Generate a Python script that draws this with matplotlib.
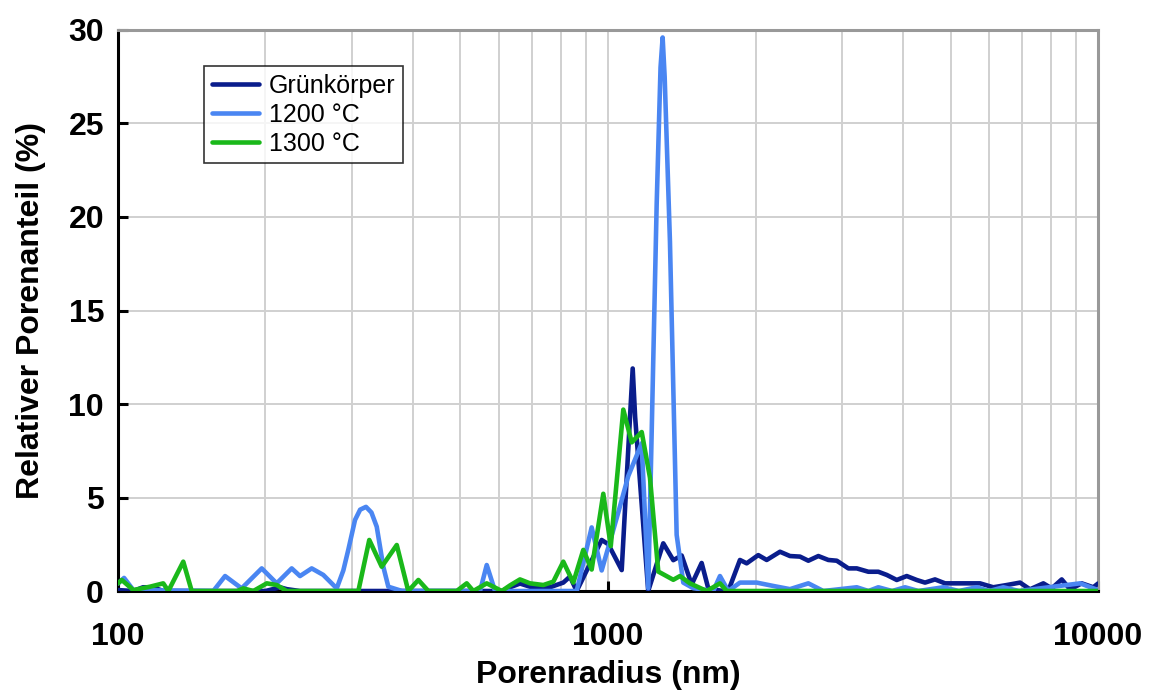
import matplotlib
matplotlib.use("Agg")
import matplotlib.pyplot as plt
from matplotlib.ticker import FixedLocator, NullFormatter

# --- data (pore radius in nm, relative pore fraction in %) ---
gk_x = [100, 107.5, 112.5, 117.9, 123.7, 200, 210.8, 214.1, 221, 235, 607, 631, 661.3, 693.1,
        761.4, 810.5, 836.3, 863.1, 970.7, 1001.4, 1066.5, 1110, 1123, 1136, 1208, 1296.5, 1359, 1413.6,
        1481.6, 1552.8, 1601.8, 1716, 1759.6, 1859, 1918.6, 2026, 2108, 2244, 2351.7, 2465,
        2563.5, 2687, 2816, 2930, 3094, 3218.6, 3398.6, 3561.9, 3705.8, 3884, 4070.7, 4265.8,
        4435.5, 4648.6, 4873, 5311, 5743, 6113, 6512, 6933, 7263, 7734, 8045, 8432, 8768,
        9263, 9781, 10000]
gk_y = [0.05, 0.0, 0.2, 0.2, 0.0, 0.0, 0.15, 0.2, 0.1, 0.0, 0.0, 0.2, 0.4, 0.23,
        0.2, 0.45, 0.77, 0.0, 2.73, 2.5, 1.12, 9.5, 11.9, 9.3, 0.0, 2.55, 1.65, 1.9,
        0.35, 1.5, 0.14, 0.0, 0.0, 1.66, 1.48, 1.92, 1.66, 2.1, 1.87, 1.84,
        1.62, 1.87, 1.66, 1.62, 1.21, 1.21, 1.03, 1.03, 0.86, 0.59, 0.8, 0.59,
        0.45, 0.62, 0.41, 0.41, 0.41, 0.2, 0.32, 0.45, 0.09, 0.41, 0.14, 0.62, 0.09,
        0.41, 0.2, 0.4]

t1200_x = [100, 102.9, 107.5, 156.5, 165.4, 178.8, 196.5, 210.8, 226.2, 235.2, 248.5, 262.4,
           279.5, 288.3, 295.1, 304.6, 312, 320.7, 329, 337.3, 347.9, 356.2, 380, 548.1, 565.6, 588.1,
           863.1, 926.1, 970.7, 1049.5, 1100, 1171.6, 1208.3, 1257, 1280, 1292.7, 1305, 1337.8, 1380.7,
           1424.4, 1492.9, 1640, 1692.4, 1759.6, 1859, 2011, 2174.5, 2351.7, 2563.5, 2750.8,
           3218.6, 3400, 3561.9, 3800, 4038, 4300, 4834, 5200, 5655, 6000, 6407, 6900, 9190,
           10000]
t1200_y = [0.4, 0.7, 0.05, 0.0, 0.8, 0.14, 1.21, 0.41, 1.21, 0.8, 1.21, 0.86,
           0.14, 1.1, 2.2, 3.8, 4.35, 4.5, 4.2, 3.44, 1.3, 0.23, 0.0, 0.0, 1.39, 0.0,
           0.0, 3.4, 1.1, 4.2, 6.15, 7.9, 0.15, 20.7, 28.0, 29.6, 27.5, 18.7, 3.0,
           0.45, 0.15, 0.0, 0.8, 0.0, 0.45, 0.45, 0.27, 0.1, 0.41, 0.0,
           0.2, 0.0, 0.2, 0.0, 0.2, 0.0, 0.2, 0.0, 0.2, 0.0, 0.2, 0.0, 0.41,
           0.05]

t1300_x = [100, 101.8, 107.5, 116.2, 123.7, 126.7, 135.9, 141.4, 175, 180.2, 188.9, 201.2,
           210.8, 221, 309.4, 325.7, 345.3, 370.6, 391.2, 410.2, 429.9, 491.2, 514.8, 531.1,
           565.6, 607, 631, 661.3, 693.1, 737.9, 773.4, 810.5, 849.5, 890.4, 926.1, 978.1,
           1013, 1074.5, 1117.9, 1171.6, 1218, 1266.5, 1359, 1402.3, 1469.7, 1589.7, 1692.4,
           1746.3, 10000]
t1300_y = [0.41, 0.59, 0.05, 0.23, 0.41, 0.0, 1.57, 0.0, 0.0, 0.14, 0.0, 0.41,
           0.32, 0.0, 0.0, 2.73, 1.3, 2.46, 0.0, 0.59, 0.0, 0.0, 0.41, 0.0,
           0.41, 0.0, 0.3, 0.62, 0.41, 0.32, 0.5, 1.57, 0.45, 2.2, 1.15, 5.2,
           2.4, 9.7, 7.95, 8.5, 6.06, 1.04, 0.6, 0.8, 0.41, 0.0, 0.41,
           0.0, 0.0]

series_labels = ["Grünkörper", "1200 °C", "1300 °C"]
y_ticks = [0, 5, 10, 15, 20, 25, 30]
x_ticks = [100, 1000, 10000]
x_ticklabels = ["100", "1000", "10000"]

plt.rcParams['font.family'] = ['Liberation Sans', 'DejaVu Sans']

fig = plt.figure(figsize=(11.5, 6.91), dpi=100)
ax = fig.add_axes([0.1026, 0.1447, 0.8522, 0.8119])

colors = ["#0a1d8c", "#4a86f2", "#1ab81a"]
for xs, ys, lab, c in zip([gk_x, t1200_x, t1300_x], [gk_y, t1200_y, t1300_y],
                          series_labels, colors):
    ax.plot(xs, ys, color=c, lw=3.3, label=lab, solid_joinstyle='round',
            solid_capstyle='round', zorder=3)

ax.set_xscale('log')
ax.set_xlim(100, 10000)
ax.set_ylim(0, 30)
ax.set_xticks(x_ticks)
ax.set_xticklabels(x_ticklabels)
minors = [m * d for d in (100, 1000) for m in range(2, 10)]
ax.xaxis.set_minor_locator(FixedLocator(minors))
ax.xaxis.set_minor_formatter(NullFormatter())
ax.set_yticks(y_ticks)

ax.grid(True, which='both', axis='x', color='#d0d0d0', lw=1.4, zorder=0)
ax.grid(True, which='major', axis='y', color='#d0d0d0', lw=1.4, zorder=0)

ax.tick_params(axis='both', which='major', direction='in', length=7, width=2.2,
               labelsize=23)
ax.tick_params(axis='x', which='major', pad=22)
ax.tick_params(axis='y', which='major', pad=10)
ax.tick_params(axis='x', which='minor', length=0)
for lab in ax.get_xticklabels() + ax.get_yticklabels():
    lab.set_fontweight('bold')

for s in ('left', 'bottom'):
    ax.spines[s].set_color('black')
    ax.spines[s].set_linewidth(2.2)
for s in ('top', 'right'):
    ax.spines[s].set_color('#999999')
    ax.spines[s].set_linewidth(2.2)

ax.set_xlabel("Porenradius (nm)", fontsize=23, fontweight='bold', labelpad=6)
ax.set_ylabel("Relativer Porenanteil (%)", fontsize=23, fontweight='bold', labelpad=16)

leg = ax.legend(loc='upper left', bbox_to_anchor=(0.088, 0.935), fontsize=18,
                frameon=True, fancybox=False, edgecolor='black', handlelength=1.9,
                handletextpad=0.4, borderpad=0.3, labelspacing=0.2, borderaxespad=0)
leg.get_frame().set_linewidth(1.2)

fig.savefig("out.png", dpi=100)
